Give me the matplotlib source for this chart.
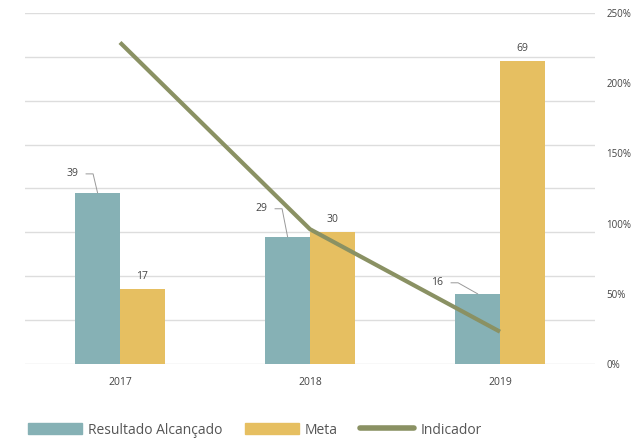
import matplotlib.pyplot as plt
import numpy as np
from matplotlib.lines import Line2D
from matplotlib.patches import Patch
from matplotlib.transforms import IdentityTransform

plt.rcParams['font.family'] = ['Open Sans', 'DejaVu Sans']

anos = ['2017', '2018', '2019']
resultado = [39, 29, 16]
meta = [17, 30, 69]
indicador = [229, 96, 23]   # percent

cor_resultado = '#86b1b5'
cor_meta = '#e6bf61'
cor_linha = '#8a9163'
cor_texto = '#444444'

fig = plt.figure(figsize=(6.33, 4.40), dpi=100)
ax = fig.add_axes([25/633, 1 - 364/440, 570/633, 351/440])
ax2 = ax.twinx()

x = np.arange(len(anos))
w = 0.236
ax.bar(x - w/2, resultado, w, color=cor_resultado, zorder=2)
ax.bar(x + w/2, meta, w, color=cor_meta, zorder=2)

ax.set_xlim(-0.5, 2.5)
ax.set_ylim(0, 80)
ax.set_yticks(np.arange(0, 81, 10))
ax.set_yticklabels([])
ax.grid(axis='y', color='#dddddd', lw=1, zorder=0)
ax.set_xticks(x)
ax.set_xticklabels(anos, fontsize=7.5, color=cor_texto)
ax.tick_params(axis='both', length=0, pad=9)
for s in ax.spines.values():
    s.set_visible(False)

ax2.plot(x, indicador, color=cor_linha, lw=3, solid_capstyle='butt', zorder=5)
ax2.set_ylim(0, 250)
ax2.set_yticks(np.arange(0, 251, 50))
ax2.set_yticklabels([f'{v}%' for v in range(0, 251, 50)], fontsize=7, color=cor_texto)
ax2.tick_params(axis='y', length=0, pad=8)
for s in ax2.spines.values():
    s.set_visible(False)

# meta labels above bars
for xi, v in zip(x, meta):
    ax.annotate(str(v), (xi + w/2, v), xytext=(0, 13), textcoords='offset pixels',
                ha='center', va='center', fontsize=7.5, color=cor_texto)

# resultado labels with leader lines (offset of label in pixels)
offsets = [(-25.5, 19), (-26.5, 28), (-40.5, 11)]
fig.canvas.draw()
for xi, v, (dx, dy) in zip(x, resultado, offsets):
    ax.annotate(str(v), (xi - w/2, v), xytext=(dx, dy), textcoords='offset pixels',
                ha='center', va='center', fontsize=7.5, color=cor_texto)
    px, py = ax.transData.transform((xi - w/2, v))
    xs = [px + dx + 14, px + dx + 21, px]
    ys = [py + dy, py + dy, py]
    fig.add_artist(Line2D(xs, ys, transform=IdentityTransform(), color='#999999', lw=0.7))

handles = [Patch(color=cor_resultado), Patch(color=cor_meta),
           Line2D([], [], color=cor_linha, lw=4, solid_capstyle='round')]
fig.legend(handles, ['Resultado Alcançado', 'Meta', 'Indicador'],
           loc='center left', bbox_to_anchor=(15/633, 1 - 430/440), ncol=3,
           frameon=False, fontsize=10, handlelength=3.9, handleheight=0.9,
           handletextpad=0.45, columnspacing=1.6, labelcolor='#555555')

fig.savefig('out.png', dpi=100)
